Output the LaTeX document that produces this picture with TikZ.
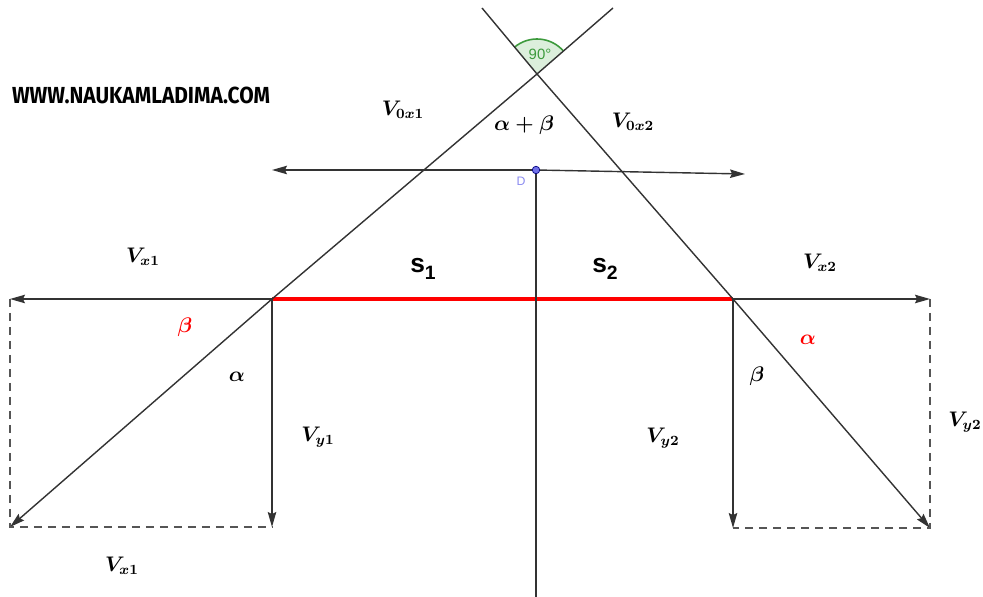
\documentclass[tikz,border=0pt]{standalone}
\usepackage{fontspec}
\usetikzlibrary{arrows.meta,calc}
\newfontfamily\arialfont{Liberation Sans}
\newfontfamily\firafont{Fira Sans}
\definecolor{ln}{HTML}{333333}
\definecolor{dsh}{HTML}{555555}
\definecolor{gfill}{HTML}{DCEFDC}
\definecolor{gline}{HTML}{3C9A3C}
\definecolor{ptblue}{HTML}{7070E8}
\definecolor{dblue}{HTML}{8A8AF0}
\tikzset{
  seg/.style={draw=ln, line width=0.8pt},
  vec/.style={seg, -{Stealth[length=3mm,width=1.7mm,inset=0.4mm]}},
  dsh/.style={draw=dsh, line width=0.8pt, dash pattern=on 0.16cm off 0.12cm},
  lbl/.style={inner sep=0pt, font=\fontsize{12}{14}\selectfont\boldmath},
  redlbl/.style={lbl, text=red},
  dot/.style={circle, fill=ptblue, draw=blue!50!black, line width=0.4pt, minimum size=0.15cm, inner sep=0pt},
  slbl/.style={inner sep=0pt, font=\arialfont\bfseries\fontsize{15}{17}\selectfont}
}
\begin{document}
\begin{tikzpicture}[x=0.02cm,y=-0.02cm]
\useasboundingbox (0,0) rectangle (983,597);
% key points
\coordinate (P1) at (272,299);
\coordinate (P2) at (733,299);
\coordinate (A) at (537,74);
\coordinate (TL) at (482,8);
\coordinate (TR) at (613,8);
\coordinate (LL) at (10,527);
\coordinate (LR) at (930,528);
\coordinate (HL) at (10,299);
\coordinate (HR) at (930,299);
\coordinate (VL) at (272,527);
\coordinate (VR) at (733,528);
\coordinate (DL) at (272,170);
\coordinate (DR) at (745,174);
\coordinate (B) at (536,597);
\coordinate (Dc) at (536,170);
% right angle sector
\fill[gfill] (A) -- ++(-41:35) arc[start angle=-41,end angle=-130,radius=35] -- cycle;
\draw[gline, line width=0.9pt] ($(A)+(-41:35)$) arc[start angle=-41,end angle=-130,radius=35];
\node[inner sep=0pt, text=gline, font=\arialfont\fontsize{8.5}{10}\selectfont] (ang) at (540,54) {90°};
% red segment
\draw[red, line width=2.8pt] (P1) -- (P2);
% main lines
\draw[seg] (P1) -- (A) -- (TR);
\draw[seg] (P2) -- (A) -- (TL);
\draw[vec] (P1) -- (LL);
\draw[vec] (P2) -- (LR);
\draw[vec] (P1) -- (HL);
\draw[vec] (P2) -- (HR);
\draw[vec] (P1) -- (VL);
\draw[vec] (P2) -- (VR);
% dashed
\draw[dsh] (HL) -- (LL) -- (VL);
\draw[dsh] (HR) -- (LR) -- (VR);
% through D
\draw[seg] (Dc) -- (B);
\draw[vec] (Dc) -- (DL);
\draw[vec] (Dc) -- (DR);
\node[dot] (D) at (Dc) {};
\node[inner sep=0pt, text=dblue, font=\arialfont\fontsize{7}{8}\selectfont] (Dl) at (521,181) {D};
% labels
\node[inner sep=0pt] (www) at (141,95) {\resizebox{5.16cm}{0.33cm}{\firafont\bfseries WWW.NAUKAMLADIMA.COM}};
\node[lbl] (v0x1) at (403,110) {$V_{0x1}$};
\node[lbl, font=\fontsize{12.5}{14}\selectfont\boldmath] (ab) at (524,125) {$\alpha+\beta$};
\node[lbl] (v0x2) at (633,122) {$V_{0x2}$};
\node[lbl] (vx1a) at (143,257) {$V_{x1}$};
\node[slbl] (s1) at (423,269) {s\raisebox{-0.45ex}{\fontsize{11}{12}\selectfont 1}};
\node[slbl] (s2) at (605,269) {s\raisebox{-0.45ex}{\fontsize{11}{12}\selectfont 2}};
\node[lbl] (vx2) at (820,263) {$V_{x2}$};
\node[redlbl] (b1) at (185,327) {$\beta$};
\node[lbl] (a1) at (237,377) {$\alpha$};
\node[lbl] (vy1) at (318,437) {$V_{y1}$};
\node[lbl] (b2) at (757,376) {$\beta$};
\node[redlbl] (a2) at (808,340) {$\alpha$};
\node[lbl] (vy2a) at (663,438) {$V_{y2}$};
\node[lbl] (vy2b) at (965,422) {$V_{y2}$};
\node[lbl] (vx1b) at (122,566) {$V_{x1}$};
\end{tikzpicture}
\end{document}
